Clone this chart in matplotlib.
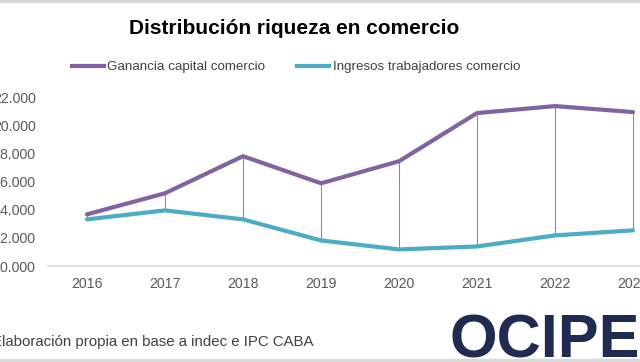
import matplotlib.pyplot as plt
from matplotlib.lines import Line2D
from matplotlib.patches import Rectangle

plt.rcParams['font.family'] = ['Liberation Sans', 'DejaVu Sans']

# datos
anios = ['2016', '2017', '2018', '2019', '2020', '2021', '2022', '2023']
ganancia_capital = [13680, 15180, 17820, 15890, 17460, 20890, 21390, 20960]
ingresos_trabajadores = [13320, 13960, 13320, 11820, 11180, 11390, 12180, 12540]
y_ticks = [10000, 12000, 14000, 16000, 18000, 20000, 22000]

color_ganancia = '#8064A2'
color_ingresos = '#4BACC6'

W, H = 640, 362
fig = plt.figure(figsize=(W / 100, H / 100), dpi=100)
ax = fig.add_axes([48 / W, 96 / H, 624 / W, 168.5 / H])

x = list(range(len(anios)))
ax.vlines(x, ingresos_trabajadores, ganancia_capital, color='#8c8c8c', lw=0.75, zorder=1)
ax.plot(x, ganancia_capital, color=color_ganancia, lw=3, solid_capstyle='round',
        solid_joinstyle='round', zorder=3)
ax.plot(x, ingresos_trabajadores, color=color_ingresos, lw=3, solid_capstyle='round',
        solid_joinstyle='round', zorder=3)

ax.set_xlim(-0.5, len(anios) - 0.5)
ax.set_ylim(y_ticks[0], y_ticks[-1])
ax.set_xticks(x)
ax.set_xticklabels(anios)
ax.set_yticks(y_ticks)
ax.set_yticklabels([f'{v:,.0f}'.replace(',', '.') for v in y_ticks])
ax.tick_params(axis='both', length=0, labelsize=10.2, labelcolor='#595959')
ax.tick_params(axis='y', pad=8.5)
ax.tick_params(axis='x', pad=8)

for lado in ['top', 'right', 'left']:
    ax.spines[lado].set_visible(False)
ax.spines['bottom'].set_color('#d9d9d9')
ax.spines['bottom'].set_linewidth(1.2)

fig.text(294 / W, 1 - 28 / H, 'Distribución riqueza en comercio', ha='center', va='center',
         fontsize=15, fontweight='bold', color='black')

handles = [Line2D([], [], color=color_ganancia, lw=3),
           Line2D([], [], color=color_ingresos, lw=3)]
fig.legend(handles, ['Ganancia capital comercio', 'Ingresos trabajadores comercio'],
           loc='center', bbox_to_anchor=(296 / W, 1 - 67 / H), ncol=2, frameon=False,
           fontsize=9.6, labelcolor='#404040', handlelength=2.4, handletextpad=0.25,
           columnspacing=2.4)

fig.text(-8 / W, 1 - 342 / H, 'Elaboración propia en base a indec e IPC CABA', ha='left',
         va='center', fontsize=10.8, color='#404040')

fig.text(450 / W, 1 - 357 / H, 'OCIPE', ha='left', va='baseline', fontsize=44,
         fontweight='bold', color='#1f2b50')

# bordes grises del recorte
fig.patches.append(Rectangle((0, 1 - 2 / H), 1, 2 / H, transform=fig.transFigure,
                             color='#d9d9d9', zorder=0))
fig.patches.append(Rectangle((0, 0), 1, 3 / H, transform=fig.transFigure,
                             color='#d9d9d9', zorder=0))

fig.savefig('out.png', dpi=100)
